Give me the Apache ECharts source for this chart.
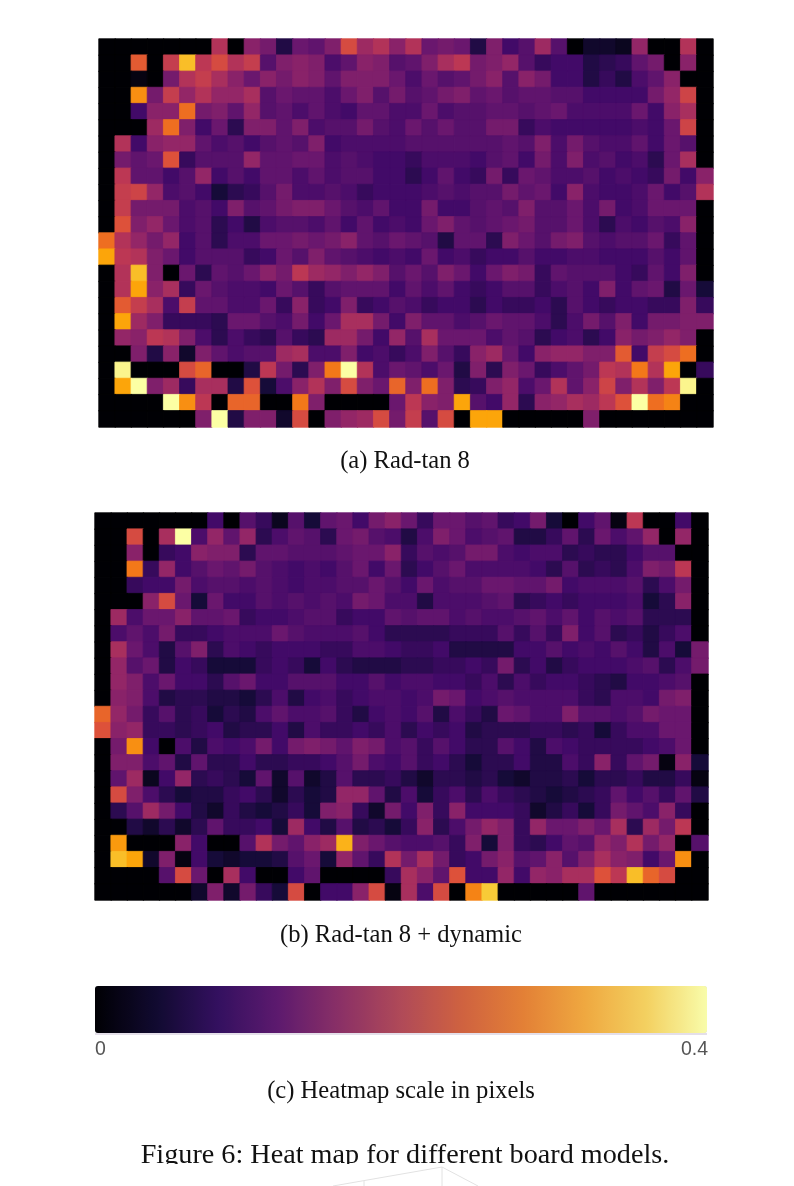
<!DOCTYPE html>
<html>
<head>
<meta charset="utf-8">
<style>html,body{margin:0;padding:0;background:#fff}#c{width:794px;height:1186px}</style>
<script src="https://cdn.jsdelivr.net/npm/echarts@6/dist/echarts.min.js"></script>
</head>
<body>
<div id="c"></div>
<script>
// values in hundredths of a pixel (scale 0 to 0.40 px); rows top to bottom, 38 columns
const boardA = [
[0,0,0,0,0,0,0,19,0,15,13,5,12,11,14,23,17,19,15,19,12,13,12,5,14,8,10,17,10,0,3,3,2,16,0,0,19,0],
[0,0,25,0,21,34,20,23,19,21,10,14,15,14,9,11,15,14,10,11,14,18,20,13,14,16,10,7,8,8,5,6,7,11,13,0,15,0],
[0,0,1,0,13,19,21,18,15,12,15,13,15,14,11,14,14,14,12,9,12,10,11,13,15,10,15,13,8,8,5,7,5,9,11,15,0,0],
[0,0,30,13,21,16,19,16,16,18,10,12,11,11,9,12,14,10,13,10,11,13,14,11,12,10,11,11,10,10,8,8,8,8,13,16,22,0],
[0,0,8,15,15,27,13,14,11,16,10,11,9,11,9,8,11,11,9,9,12,9,10,10,11,11,10,11,12,9,9,9,9,12,8,15,18,0],
[0,0,0,17,27,14,8,12,6,14,14,11,14,9,10,10,13,10,9,12,10,12,10,10,13,13,7,9,8,8,8,8,8,9,8,12,22,0],
[0,19,8,15,16,16,11,9,10,8,10,11,10,14,8,9,9,9,9,10,10,10,10,10,10,11,10,14,9,13,10,9,9,11,8,12,10,0],
[0,13,11,12,24,7,10,10,10,16,11,11,12,12,9,10,9,8,8,7,9,9,9,8,10,11,8,13,9,14,9,10,8,9,6,12,18,0],
[0,20,11,11,8,10,16,8,10,8,11,11,9,11,9,10,10,8,8,6,8,11,8,7,13,7,12,11,9,9,10,8,9,8,7,13,8,15],
[0,21,22,16,9,10,8,4,6,7,10,13,9,9,10,9,7,8,8,8,9,10,9,10,10,13,11,12,8,15,9,8,8,9,12,8,10,19],
[0,21,13,13,13,9,10,8,14,10,11,13,14,14,12,10,9,11,8,8,13,8,8,10,11,10,14,10,10,12,9,13,8,9,12,12,12,0],
[0,24,14,16,12,9,10,6,8,5,9,10,10,9,11,8,11,8,9,8,12,14,11,10,11,12,13,10,10,12,9,6,9,8,10,9,15,0],
[27,19,16,13,16,8,10,6,9,9,12,12,13,12,13,15,11,10,12,11,10,5,11,11,6,14,12,10,13,14,10,9,10,10,12,7,11,0],
[32,20,19,14,12,8,10,10,10,7,8,12,10,14,11,10,9,8,9,8,12,8,9,7,8,8,10,8,8,9,9,8,8,8,10,8,11,0],
[0,19,34,14,0,12,6,11,10,12,15,13,20,17,16,14,16,14,10,12,10,14,12,8,12,14,13,7,11,10,10,10,8,7,11,8,14,0],
[0,19,32,15,18,7,12,10,9,9,8,12,10,7,10,11,11,11,8,11,9,11,8,7,8,10,10,7,9,10,8,14,8,11,12,5,12,4],
[0,25,21,18,9,21,11,11,9,9,12,7,15,7,8,14,7,8,10,9,7,8,8,6,8,7,7,8,6,10,8,7,8,8,7,7,14,7],
[0,32,17,14,7,7,7,6,12,12,10,9,13,8,12,18,18,13,8,14,11,11,9,10,12,11,11,9,6,9,13,10,14,8,13,13,14,14],
[0,16,15,20,19,14,9,6,9,7,6,10,7,6,17,17,13,8,16,10,18,12,12,12,9,11,10,6,8,9,6,8,15,13,14,16,14,0],
[0,0,14,5,15,3,14,11,9,10,10,17,18,9,9,14,8,9,7,9,14,10,7,15,17,12,8,15,16,16,14,14,25,8,21,23,27,0],
[0,39,0,0,0,23,26,0,0,5,20,13,6,14,28,40,19,9,12,11,9,12,5,14,6,14,12,7,9,11,13,20,19,28,19,32,0,7],
[0,32,40,14,17,7,18,18,5,24,4,9,15,19,14,23,14,12,26,14,27,14,6,7,14,16,9,12,19,11,15,22,14,19,14,20,39,0],
[0,0,0,0,40,30,20,0,26,26,0,0,28,14,0,0,0,0,12,20,15,14,32,10,8,16,6,15,16,18,17,20,24,40,27,29,0,0],
[0,0,0,0,0,0,14,40,5,14,14,3,23,0,14,16,17,23,13,21,10,23,0,32,32,0,0,0,0,0,14,0,0,0,0,0,0,0]
];
const boardB = [
[0,0,0,0,0,0,0,8,0,10,7,2,10,4,11,12,8,13,15,12,7,12,12,10,11,7,8,13,4,0,8,11,1,20,0,0,8,0],
[0,0,23,0,18,40,9,16,11,16,6,9,11,10,6,12,13,10,9,5,9,14,12,9,10,11,5,5,7,11,6,12,9,11,16,0,16,0],
[0,0,15,0,7,8,15,14,14,6,11,11,10,10,10,11,12,12,15,7,10,9,10,13,13,9,8,9,9,6,7,6,6,8,10,10,0,0],
[0,0,28,7,16,8,10,12,11,13,10,9,8,9,8,10,12,8,12,6,8,10,12,9,9,9,9,8,6,10,6,7,6,9,14,13,20,0],
[0,0,7,8,8,13,9,10,10,9,10,9,8,9,9,10,10,12,10,8,12,9,10,10,12,12,11,11,13,8,9,9,9,10,6,9,13,0],
[0,0,0,15,23,12,4,12,8,8,10,9,10,9,10,9,13,12,9,9,5,9,9,9,10,11,6,7,8,7,8,8,8,9,4,6,15,0],
[0,17,9,12,12,15,11,11,12,7,8,8,9,10,10,7,8,8,11,10,11,11,9,10,9,9,10,11,9,11,8,10,9,10,6,6,6,0],
[0,9,11,9,13,7,7,8,9,9,9,12,10,9,9,9,10,8,6,6,6,6,7,7,7,10,7,10,7,14,8,10,6,7,5,7,9,0],
[0,18,12,9,5,10,14,6,9,8,7,8,8,8,7,7,9,9,8,7,7,8,5,5,5,5,8,8,10,8,9,8,10,8,5,9,4,13],
[0,16,10,12,5,8,7,4,4,4,7,8,7,4,8,6,5,5,5,6,6,7,7,8,7,13,6,8,5,7,8,8,8,9,10,6,9,13],
[0,16,14,9,12,8,8,6,10,12,8,8,10,10,10,8,8,10,8,9,9,8,8,7,9,6,9,7,8,8,7,6,5,8,8,9,10,0],
[0,15,14,9,5,6,6,5,5,4,6,9,5,8,9,7,8,9,9,8,9,13,12,8,9,10,9,9,9,9,7,6,9,9,8,13,14,0],
[26,16,13,7,10,6,7,4,6,5,9,11,9,9,10,7,5,8,9,8,10,5,9,7,5,12,11,9,9,14,10,10,9,10,13,12,12,0],
[24,15,16,7,7,6,7,8,5,6,6,8,5,9,7,7,8,7,9,6,8,7,8,5,6,6,6,7,7,6,7,4,7,9,9,12,12,0],
[0,13,30,8,0,9,5,9,8,9,13,8,13,14,13,11,14,13,9,10,7,10,8,6,6,10,8,5,9,8,7,7,7,7,8,9,12,0],
[0,14,14,9,11,5,11,6,6,8,6,6,7,7,8,10,13,9,8,10,7,8,6,4,6,6,8,5,5,9,7,15,7,11,13,1,15,4],
[0,11,17,2,8,16,6,7,6,4,11,3,10,3,5,10,6,6,7,5,3,6,6,5,6,4,3,5,5,6,4,6,6,7,5,5,7,1],
[0,23,14,9,6,4,5,5,7,8,6,3,6,4,5,16,16,11,5,9,4,7,9,6,9,7,6,5,4,5,6,7,11,8,10,7,11,5],
[0,6,10,17,13,8,5,3,7,5,4,5,7,4,14,15,7,3,13,8,14,7,15,8,8,8,7,3,5,7,4,7,13,11,9,15,7,0],
[0,0,5,3,6,3,6,11,7,7,8,4,17,8,5,10,5,6,4,7,15,6,9,13,16,14,7,16,12,12,14,12,18,6,17,13,20,0],
[0,31,0,0,0,15,8,0,0,10,19,13,11,15,17,33,14,12,10,9,9,10,7,14,4,14,7,6,8,11,10,16,14,19,13,16,0,10],
[0,34,32,3,14,1,8,4,3,4,4,5,10,12,4,16,11,7,19,13,18,13,7,8,13,15,10,11,15,10,14,18,15,14,8,12,30,0],
[0,0,0,0,10,23,12,0,18,8,0,0,8,11,0,0,0,0,7,18,15,11,24,8,8,16,8,16,15,18,18,24,20,34,26,23,0,0],
[0,0,0,0,0,0,3,14,3,13,7,4,23,0,8,8,15,23,1,18,9,23,0,29,35,0,0,0,0,0,11,0,0,0,0,0,0,0]
];
const columns = boardA[0].map((_, i) => String(i));
const rows = boardA.map((_, i) => String(i));
const scaleMin = 0;
const scaleMax = 40;
const scaleTicks = ['0', '0.4'];
const inferno = ['#000004','#160b39','#420a68','#6a176e','#932667','#bc3754','#dd513a','#f37819','#fca50a','#f6d746','#fcffa4'];
const barColors = ['#000004','#110a30','#33105f','#5d1a6e','#8a3066','#b04a58','#cf6240','#e38036','#efa840','#f3d060','#f8fcaa'];
const captions = ['(a) Rad-tan 8', '(b) Rad-tan 8 + dynamic', '(c) Heatmap scale in pixels', 'Figure 6: Heat map for different board models.'];

// each cell gets a hairline border in its own colour so neighbouring cells leave no seam
const toCells = m => m.flatMap((r, y) => r.map((v, x) => ({
  value:[x, y, v],
  itemStyle:{borderWidth:0.8, borderColor:echarts.color.lerp(v / scaleMax, inferno)}
})));
const serif = '"Liberation Serif","Times New Roman",serif';
const sans = '"Liberation Sans",Arial,sans-serif';
const cap = (t, x, y, size) => ({type:'text', x, y, z:10, style:{text:t, x:0, y:0, fill:'#111', font:size+'px '+serif, align:'center', verticalAlign:'middle'}});
const lineEl = (x1,y1,x2,y2) => ({type:'line', shape:{x1,y1,x2,y2}, z:30, style:{stroke:'#e2e2e2', lineWidth:1}});

const chart = echarts.init(document.getElementById('c'));
const gridOf = (left, top, width, height) => ({left, top, width, height, containLabel:false, show:false});
const xA = i => ({type:'category', gridIndex:i, data:columns, show:false, boundaryGap:true});
const yA = i => ({type:'category', gridIndex:i, data:rows, inverse:true, show:false, boundaryGap:true});
const heat = (m, i) => ({type:'heatmap', xAxisIndex:i, yAxisIndex:i, data:toCells(m), silent:true, progressive:0, animation:false});

chart.setOption({
  animation:false,
  backgroundColor:'#fff',
  grid:[gridOf(99,39,614,388), gridOf(95,513,613,387)],
  xAxis:[xA(0), xA(1)],
  yAxis:[yA(0), yA(1)],
  visualMap:[
    {type:'continuous', show:false, min:scaleMin, max:scaleMax, dimension:2, seriesIndex:[0,1], inRange:{color:inferno}},
    {type:'continuous', min:scaleMin, max:scaleMax, orient:'horizontal', left:95, top:986,
     itemWidth:47, itemHeight:612, calculable:false, realtime:false, hoverLink:false, text:null, showLabel:false,
     padding:0, seriesIndex:[], inRange:{color:barColors}, textStyle:{color:'transparent'}}
  ],
  series:[heat(boardA,0), heat(boardB,1)],
  graphic:{elements:[
    cap(captions[0], 405, 461.5, 24.6),
    cap(captions[1], 401, 935.5, 24.6),
    cap(captions[2], 401, 1091.5, 24.6),
    cap(captions[3], 405, 1155.5, 28.2),
    {type:'rect', shape:{x:0,y:1164,width:794,height:22}, z:20, style:{fill:'#fff'}},
    {type:'line', shape:{x1:95,y1:1034,x2:707,y2:1034}, z:5, style:{stroke:'#c9bfd3', lineWidth:1}},
    {type:'text', x:95, y:1050, z:10, style:{text:scaleTicks[0], x:0, y:0, fill:'#555', font:'19.5px '+sans, align:'left', verticalAlign:'middle'}},
    {type:'text', x:708, y:1050, z:10, style:{text:scaleTicks[1], x:0, y:0, fill:'#555', font:'19.5px '+sans, align:'right', verticalAlign:'middle'}},
    lineEl(333,1186,442,1167),
    lineEl(442,1167,478,1186),
    lineEl(442,1167,442,1186),
    lineEl(364,1181,364,1186)
  ]}
});
</script>
</body>
</html>
